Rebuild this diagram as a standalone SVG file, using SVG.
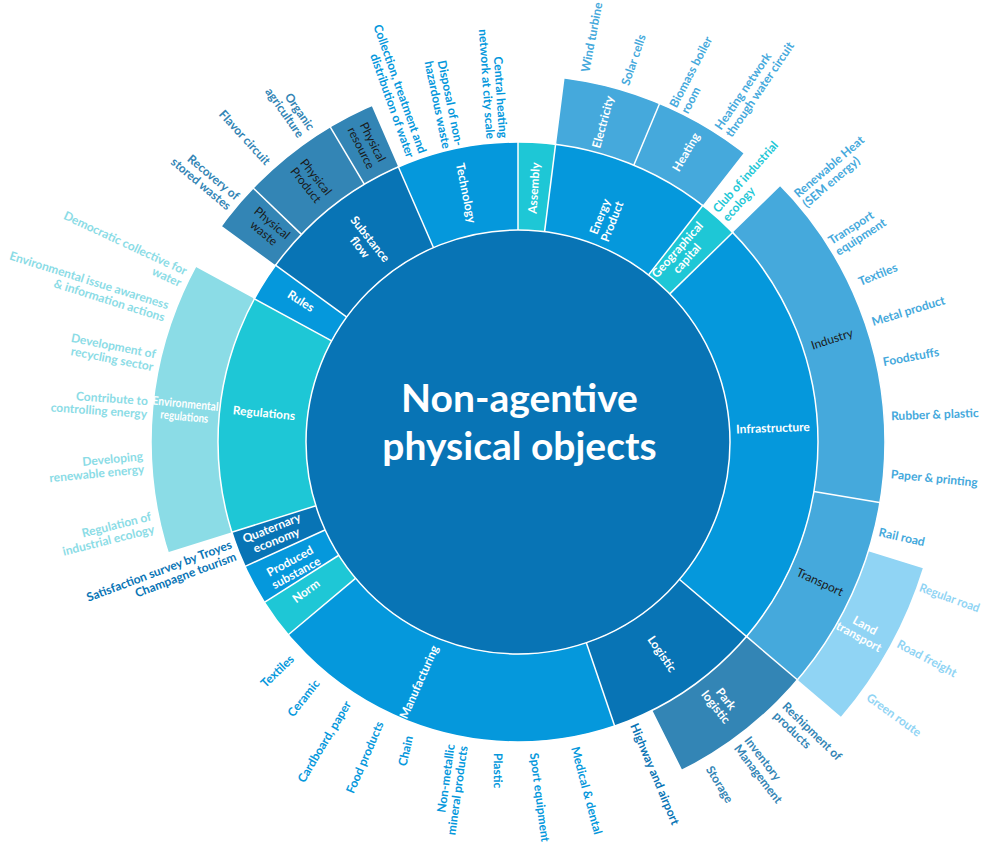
<svg xmlns="http://www.w3.org/2000/svg" width="985" height="861" viewBox="0 0 985 861">
<style>
text{font-family:Lato,"Noto Sans","Liberation Sans",sans-serif;font-size:12px;font-weight:700}
.arc{fill:none}
.r1{stroke-width:88}
.r2{stroke-width:67}
.r3{stroke-width:57}
.sb{stroke:#0598dc}.sd{stroke:#0874b5}.st{stroke:#1ec7d6}.sl{stroke:#45a9dc}.ss{stroke:#3385b5}.se{stroke:#8bdce6}.sk{stroke:#90d4f4}
.tb{fill:#0598dc}.td{fill:#0874b5}.tt{fill:#1ec7d6}.tl{fill:#45a9dc}.ts{fill:#3385b5}.te{fill:#8bdce6}.tk{fill:#90d4f4}
.w{fill:#fff}
.k{fill:#1a1a1a;font-weight:400}
.sep{stroke:#fff;stroke-width:1.5;fill:none}
.title{font-size:39px;fill:#fff;text-anchor:middle}
</style>
<rect width="985" height="861" fill="#fff"/>

<!-- ring 1 nodes -->
<g id="assembly"><circle class="arc r1 st" cx="518" cy="442" r="256" stroke-dasharray="32.17 5000" transform="rotate(-90 518 442)"/>
<text class="w" transform="translate(534,188) rotate(-86.4)" text-anchor="middle" y="4.2">Assembly</text></g>
<g id="energy-product"><circle class="arc r1 sb" cx="518" cy="442" r="256" stroke-dasharray="137.62 5000" transform="rotate(-82.8 518 442)"/>
<text class="w" transform="translate(606,219) rotate(-68.4)" text-anchor="middle"><tspan x="0" y="-2.3">Energy</tspan><tspan x="0" y="10.7">Product</tspan></text></g>
<g id="geographical-capital"><circle class="arc r1 st" cx="518" cy="442" r="256" stroke-dasharray="34.40 5000" transform="rotate(-52 518 442)"/>
<text class="w" transform="translate(682,254) rotate(-48.2)" text-anchor="middle"><tspan x="0" y="-2.3">Geographical</tspan><tspan x="0" y="10.7">capital</tspan></text></g>
<g id="infrastructure"><circle class="arc r1 sb" cx="518" cy="442" r="256" stroke-dasharray="378.44 5000" transform="rotate(-44.3 518 442)"/>
<text class="w" transform="translate(773,428) rotate(-2)" text-anchor="middle" y="4.2">Infrastructure</text></g>
<g id="logistic"><circle class="arc r1 sd" cx="518" cy="442" r="256" stroke-dasharray="137.62 5000" transform="rotate(40.4 518 442)"/>
<text class="w" transform="translate(662,654) rotate(55.8)" text-anchor="middle" y="4.2">Logistic</text></g>
<g id="manufacturing"><circle class="arc r1 sb" cx="518" cy="442" r="256" stroke-dasharray="307.40 5000" transform="rotate(71.2 518 442)"/>
<text class="w" transform="translate(419,682) rotate(-66)" text-anchor="middle" y="4.2">Manufacturing</text></g>
<g id="norm"><circle class="arc r1 st" cx="518" cy="442" r="256" stroke-dasharray="34.40 5000" transform="rotate(140 518 442)"/>
<text class="w" transform="translate(306,591) rotate(-36.2)" text-anchor="middle" y="4.2">Norm</text></g>
<g id="produced-substance"><circle class="arc r1 sb" cx="518" cy="442" r="256" stroke-dasharray="34.85 5000" transform="rotate(147.7 518 442)"/>
<text class="w" transform="translate(293,567) rotate(-28.4)" text-anchor="middle"><tspan x="0" y="-2.3">Produced</tspan><tspan x="0" y="10.7">substance</tspan></text></g>
<g id="quaternary-economy"><circle class="arc r1 sd" cx="518" cy="442" r="256" stroke-dasharray="31.28 5000" transform="rotate(155.5 518 442)"/>
<text class="w" transform="translate(274,534) rotate(-22)" text-anchor="middle"><tspan x="0" y="-2.3">Quaternary</tspan><tspan x="0" y="10.7">economy</tspan></text></g>
<g id="regulations"><circle class="arc r1 st" cx="518" cy="442" r="256" stroke-dasharray="205.53 5000" transform="rotate(162.5 518 442)"/>
<text class="w" transform="translate(264,413) rotate(5.5)" text-anchor="middle" y="4.2">Regulations</text></g>
<g id="rules"><circle class="arc r1 sb" cx="518" cy="442" r="256" stroke-dasharray="33.96 5000" transform="rotate(208.5 518 442)"/>
<text class="w" transform="translate(301,301) rotate(32.3)" text-anchor="middle" y="4.2">Rules</text></g>
<g id="substance-flow"><circle class="arc r1 sd" cx="518" cy="442" r="256" stroke-dasharray="135.83 5000" transform="rotate(216.1 518 442)"/>
<text class="w" transform="translate(365,243) rotate(51.3)" text-anchor="middle"><tspan x="0" y="-2.3">Substance</tspan><tspan x="0" y="10.7">flow</tspan></text></g>
<g id="technology"><circle class="arc r1 sb" cx="518" cy="442" r="256" stroke-dasharray="105.00 5000" transform="rotate(246.5 518 442)"/>
<text class="w" transform="translate(466,193) rotate(78.3)" text-anchor="middle" y="4.2">Technology</text></g>

<!-- ring 2 nodes -->
<g id="electricity"><circle class="arc r2 sl" cx="518" cy="442" r="333.5" stroke-dasharray="89.64 5000" transform="rotate(-82.7 518 442)"/>
<text class="w" transform="translate(603,122) rotate(-75)" text-anchor="middle" y="4.2">Electricity</text></g>
<g id="heating"><circle class="arc r2 sl" cx="518" cy="442" r="333.5" stroke-dasharray="89.06 5000" transform="rotate(-67.3 518 442)"/>
<text class="w" transform="translate(686,152) rotate(-59.7)" text-anchor="middle" y="4.2">Heating</text></g>
<g id="industry"><circle class="arc r2 sl" cx="518" cy="442" r="333.5" stroke-dasharray="313.15 5000" transform="rotate(-44.3 518 442)"/>
<text class="k" transform="translate(832,339) rotate(-18)" text-anchor="middle" y="4.2">Industry</text></g>
<g id="transport"><circle class="arc r2 sl" cx="518" cy="442" r="333.5" stroke-dasharray="179.86 5000" transform="rotate(9.5 518 442)"/>
<text class="k" transform="translate(820,582) rotate(25)" text-anchor="middle" y="4.2">Transport</text></g>
<g id="park-logistic"><circle class="arc r2 ss" cx="518" cy="442" r="333.5" stroke-dasharray="133.88 5000" transform="rotate(40.4 518 442)"/>
<text class="w" transform="translate(721,703) rotate(51.8)" text-anchor="middle"><tspan x="0" y="-2.3">Park</tspan><tspan x="0" y="10.7">logistic</tspan></text></g>
<g id="environmental-regulations"><circle class="arc r2 se" cx="518" cy="442" r="333.5" stroke-dasharray="267.75 5000" transform="rotate(162.5 518 442)"/>
<text class="w" transform="translate(185,410) rotate(5.5)" text-anchor="middle" style="font-weight:700"><tspan x="0" y="-2.3" textLength="66" lengthAdjust="spacingAndGlyphs">Environmental</tspan><tspan x="0" y="10.7" textLength="48" lengthAdjust="spacingAndGlyphs">regulations</tspan></text></g>
<g id="physical-waste"><circle class="arc r2 ss" cx="518" cy="442" r="333.5" stroke-dasharray="44.82 5000" transform="rotate(216.1 518 442)"/>
<text class="k" transform="translate(268,228) rotate(40)" text-anchor="middle"><tspan x="0" y="-2.3">Physical</tspan><tspan x="0" y="10.7">waste</tspan></text></g>
<g id="physical-product"><circle class="arc r2 ss" cx="518" cy="442" r="333.5" stroke-dasharray="89.64 5000" transform="rotate(223.8 518 442)"/>
<text class="k" transform="translate(311,181) rotate(51.5)" text-anchor="middle"><tspan x="0" y="-2.3">Physical</tspan><tspan x="0" y="10.7">Product</tspan></text></g>
<g id="physical-resource"><circle class="arc r2 ss" cx="518" cy="442" r="333.5" stroke-dasharray="42.49 5000" transform="rotate(239.2 518 442)"/>
<text class="k" transform="translate(367,145) rotate(63)" text-anchor="middle"><tspan x="0" y="-2.3">Physical</tspan><tspan x="0" y="10.7">resource</tspan></text></g>

<!-- ring 3 node -->
<g id="land-transport"><circle class="arc r3 sk" cx="518" cy="442" r="395.5" stroke-dasharray="160.14 5000" transform="rotate(17.2 518 442)"/>
<text class="w" transform="translate(862,631) rotate(28.8)" text-anchor="middle"><tspan x="0" y="-2.3">Land</tspan><tspan x="0" y="10.7">transport</tspan></text></g>

<!-- separators -->
<g id="separators" class="sep">
<circle cx="518" cy="442" r="300"/>
<circle cx="518" cy="442" r="367"/>
<g>
<line x1="518" y1="231" x2="518" y2="141" transform="rotate(0 518 442)"/>
<line x1="518" y1="231" x2="518" y2="141" transform="rotate(7.2 518 442)"/>
<line x1="518" y1="231" x2="518" y2="141" transform="rotate(38 518 442)"/>
<line x1="518" y1="231" x2="518" y2="141" transform="rotate(45.7 518 442)"/>
<line x1="518" y1="231" x2="518" y2="141" transform="rotate(130.4 518 442)"/>
<line x1="518" y1="231" x2="518" y2="141" transform="rotate(161.2 518 442)"/>
<line x1="518" y1="231" x2="518" y2="141" transform="rotate(230 518 442)"/>
<line x1="518" y1="231" x2="518" y2="141" transform="rotate(237.7 518 442)"/>
<line x1="518" y1="231" x2="518" y2="141" transform="rotate(245.5 518 442)"/>
<line x1="518" y1="231" x2="518" y2="141" transform="rotate(252.5 518 442)"/>
<line x1="518" y1="231" x2="518" y2="141" transform="rotate(298.5 518 442)"/>
<line x1="518" y1="231" x2="518" y2="141" transform="rotate(306.1 518 442)"/>
<line x1="518" y1="231" x2="518" y2="141" transform="rotate(336.5 518 442)"/>
</g>
<g>
<line x1="518" y1="142" x2="518" y2="74" transform="rotate(22.7 518 442)"/>
<line x1="518" y1="142" x2="518" y2="74" transform="rotate(99.5 518 442)"/>
<line x1="518" y1="142" x2="518" y2="74" transform="rotate(130.4 518 442)"/>
<line x1="518" y1="142" x2="518" y2="74" transform="rotate(313.8 518 442)"/>
<line x1="518" y1="142" x2="518" y2="74" transform="rotate(329.2 518 442)"/>
<line x1="518" y1="75" x2="518" y2="17" transform="rotate(107.2 518 442)"/>
</g>
</g>

<!-- root -->
<g id="root">
<circle cx="518" cy="442" r="212" fill="#0874b5" stroke="#fff" stroke-width="1.5"/>
<text class="title" x="519.5" y="412">Non-agentive</text>
<text class="title" x="519.5" y="460">physical objects</text>
</g>

<!-- leaf labels -->
<g id="collection-water"><text class="tb" transform="translate(416.7,155) rotate(70.4)" text-anchor="end"><tspan x="0" y="-2.3">Collection, treatment and</tspan><tspan x="0" y="10.7">distribution of water</tspan></text></g>
<g id="disposal-waste"><text class="tb" transform="translate(453,147) rotate(78.3)" text-anchor="end"><tspan x="0" y="-2.3">Disposal of non-</tspan><tspan x="0" y="10.7">hazardous waste</tspan></text></g>
<g id="central-heating"><text class="tb" transform="translate(497,138.5) rotate(86.1)" text-anchor="end"><tspan x="0" y="-2.3">Central heating</tspan><tspan x="0" y="10.7">network at city scale</tspan></text></g>
<g id="wind-turbine"><text class="tl" transform="translate(585,72) rotate(-79.2)" y="4.2">Wind turbine</text></g>
<g id="solar-cells"><text class="tl" transform="translate(625,85) rotate(-71.5)" y="4.2">Solar cells</text></g>
<g id="biomass"><text class="tl" transform="translate(678.5,109.5) rotate(-62.5)"><tspan x="0" y="-2.3">Biomass boiler</tspan><tspan x="0" y="10.7">room</tspan></text></g>
<g id="heating-network"><text class="tl" transform="translate(723,132) rotate(-55.8)"><tspan x="0" y="-2.3">Heating network</tspan><tspan x="0" y="10.7">through water circuit</tspan></text></g>
<g id="club-industrial-ecology"><text class="tt" transform="translate(720,215) rotate(-48.2)"><tspan x="0" y="-2.3">Club of industrial</tspan><tspan x="0" y="10.7">ecology</tspan></text></g>
<g id="renewable-heat"><text class="tl" transform="translate(800,200) rotate(-40.5)"><tspan x="0" y="-2.3">Renewable Heat</tspan><tspan x="0" y="10.7">(SEM energy)</tspan></text></g>
<g id="transport-equipment"><text class="tl" transform="translate(833,247) rotate(-32.8)"><tspan x="0" y="-2.3">Transport</tspan><tspan x="0" y="10.7">equipment</tspan></text></g>
<g id="textiles-industry"><text class="tl" transform="translate(859,282) rotate(-22)" y="4.2">Textiles</text></g>
<g id="metal-product"><text class="tl" transform="translate(872,322) rotate(-17)" y="4.2">Metal product</text></g>
<g id="foodstuffs"><text class="tl" transform="translate(883,362) rotate(-10.5)" y="4.2">Foodstuffs</text></g>
<g id="rubber-plastic"><text class="tl" transform="translate(891,416) rotate(-2)" y="4.2">Rubber &amp; plastic</text></g>
<g id="paper-printing"><text class="tl" transform="translate(891,474) rotate(5.6)" y="4.2">Paper &amp; printing</text></g>
<g id="rail-road"><text class="tl" transform="translate(879,532) rotate(12.5)" y="4.2">Rail road</text></g>
<g id="regular-road"><text class="tk" transform="translate(920,587) rotate(20)" y="4.2" textLength="63" lengthAdjust="spacingAndGlyphs">Regular road</text></g>
<g id="road-freight"><text class="tk" transform="translate(898,643) rotate(28)" y="4.2">Road freight</text></g>
<g id="green-route"><text class="tk" transform="translate(868,696) rotate(36)" y="4.2">Green route</text></g>
<g id="reshipment"><text class="ts" transform="translate(780,709) rotate(44.2)"><tspan x="0" y="-2.3">Reshipment of</tspan><tspan x="0" y="10.7">products</tspan></text></g>
<g id="inventory"><text class="ts" transform="translate(742,742) rotate(52.5)"><tspan x="0" y="-2.3">Inventory</tspan><tspan x="0" y="10.7">Management</tspan></text></g>
<g id="storage"><text class="ts" transform="translate(709,767) rotate(58.5)" y="4.2">Storage</text></g>
<g id="highway-airport"><text class="td" transform="translate(634,724) rotate(67.3)" y="4.2">Highway and airport</text></g>
<g id="medical-dental"><text class="tb" transform="translate(575,747) rotate(75)" y="4.2">Medical &amp; dental</text></g>
<g id="sport-equipment"><text class="tb" transform="translate(534,753) rotate(82.6)" y="4.2">Sport equipment</text></g>
<g id="plastic"><text class="tb" transform="translate(498,753) rotate(90.3)" y="4.2">Plastic</text></g>
<g id="non-metallic"><text class="tb" transform="translate(457,745) rotate(-82.1)" text-anchor="end"><tspan x="0" y="-2.3">Non-metallic</tspan><tspan x="0" y="10.7">mineral products</tspan></text></g>
<g id="chain"><text class="tb" transform="translate(409,736) rotate(-77)" text-anchor="end" y="4.2">Chain</text></g>
<g id="food-products"><text class="tb" transform="translate(380,722) rotate(-66.8)" text-anchor="end" y="4.2">Food products</text></g>
<g id="cardboard-paper"><text class="tb" transform="translate(348,702) rotate(-59.1)" text-anchor="end" y="4.2">Cardboard, paper</text></g>
<g id="ceramic"><text class="tb" transform="translate(317,681) rotate(-51.5)" text-anchor="end" y="4.2">Ceramic</text></g>
<g id="textiles-manufacturing"><text class="tb" transform="translate(292,657) rotate(-43.8)" text-anchor="end" y="4.2">Textiles</text></g>
<g id="satisfaction-survey"><text class="td" transform="translate(233.5,550) rotate(-20.5)" text-anchor="end"><tspan x="0" y="-2.3">Satisfaction survey by Troyes</tspan><tspan x="0" y="10.7">Champagne tourism</tspan></text></g>
<g id="regulation-industrial-ecology"><text class="te" transform="translate(152.5,522.5) rotate(-14)" text-anchor="end"><tspan x="0" y="-2.3">Regulation of</tspan><tspan x="0" y="10.7">industrial ecology</tspan></text></g>
<g id="developing-renewable"><text class="te" transform="translate(143.5,462.5) rotate(-5.5)" text-anchor="end"><tspan x="0" y="-2.3">Developing</tspan><tspan x="0" y="10.7">renewable energy</tspan></text></g>
<g id="contribute-energy"><text class="te" transform="translate(147.5,407.5) rotate(4)" text-anchor="end"><tspan x="0" y="-2.3">Contribute to</tspan><tspan x="0" y="10.7">controlling energy</tspan></text></g>
<g id="development-recycling"><text class="te" transform="translate(154.5,360.5) rotate(11)" text-anchor="end"><tspan x="0" y="-2.3">Development of</tspan><tspan x="0" y="10.7">recycling sector</tspan></text></g>
<g id="environmental-awareness"><text class="te" transform="translate(166.5,311.5) rotate(17.5)" text-anchor="end"><tspan x="0" y="-2.3">Environmental issue awareness</tspan><tspan x="0" y="10.7">&amp; information actions</tspan></text></g>
<g id="democratic-collective"><text class="te" transform="translate(183.5,277.5) rotate(25)" text-anchor="end"><tspan x="0" y="-2.3">Democratic collective for</tspan><tspan x="0" y="10.7">water</tspan></text></g>
<g id="recovery-wastes"><text class="ts" transform="translate(233.5,202.5) rotate(40)" text-anchor="end"><tspan x="0" y="-2.3">Recovery of</tspan><tspan x="0" y="10.7">stored wastes</tspan></text></g>
<g id="flavor-circuit"><text class="ts" transform="translate(268,163) rotate(47.6)" text-anchor="end" y="4.2">Flavor circuit</text></g>
<g id="organic-agriculture"><text class="ts" transform="translate(306.5,132.5) rotate(55)" text-anchor="end"><tspan x="0" y="-2.3">Organic</tspan><tspan x="0" y="10.7">agriculture</tspan></text></g>
</svg>
